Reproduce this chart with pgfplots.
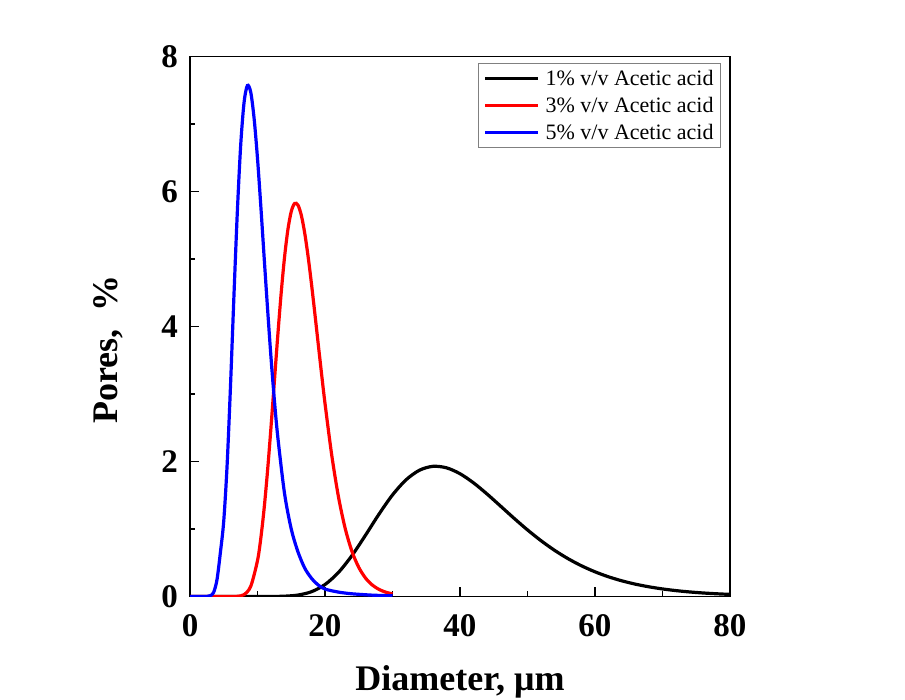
\documentclass[border=0pt]{standalone}
\usepackage{fontspec}
\setmainfont{Liberation Serif}
\usepackage{pgfplots}
\usepackage{pgfplotstable}
\pgfplotsset{compat=1.18}

% pore size distributions, pore fraction (%) against pore diameter (um)
\pgfplotstableread{
x y
0 0
10 0
12 0.0005
14 0.0044
16 0.0214
18 0.0710
20 0.1772
22 0.3567
24 0.6078
26 0.9080
28 1.2202
30 1.5046
32 1.728
34 1.8711
36 1.9284
38 1.9064
40 1.819
42 1.6839
44 1.519
46 1.340
48 1.1594
50 0.9864
52 0.8272
54 0.6848
56 0.5608
58 0.4548
60 0.3658
62 0.2919
64 0.2315
66 0.1825
68 0.1432
70 0.1119
72 0.0871
74 0.0675
76 0.0522
78 0.0403
80 0.0311
}\acidOne

\pgfplotstableread{
x y
0 0
6 0
7 0.0026
8 0.0272
9 0.1515
10 0.5323
10.5 0.871
11 1.321
11.5 1.875
12 2.509
12.5 3.186
13 3.860
13.5 4.486
14 5.021
14.5 5.433
15 5.703
15.5 5.823
16 5.798
16.5 5.644
17 5.381
17.5 5.034
18 4.629
18.5 4.189
19 3.737
19.5 3.290
20 2.861
21 2.093
22 1.474
23 1.005
24 0.6664
25 0.4317
26 0.2738
27 0.1708
28 0.1049
29 0.0637
30 0.0382
}\acidThree

\pgfplotstableread{
x y
0 0
2 0
2.5 0.001
3 0.012
3.5 0.06
4 0.25
4.5 0.65
5 1.12
5.5 1.95
6 3.12
6.5 4.43
7 5.67
7.5 6.67
8 7.31
8.5 7.57
9 7.47
9.5 7.08
10 6.49
10.5 5.77
11 5.00
11.5 4.25
12 3.54
12.5 2.91
13 2.37
14 1.53
15 1.00
16 0.66
17 0.42
18 0.27
19 0.17
20 0.11
22 0.065
24 0.04
27 0.02
30 0.01
}\acidFive

\begin{document}
\begin{tikzpicture}
\useasboundingbox (0,0) rectangle (905pt,700pt);
\begin{axis}[
  at={(190pt,103.5pt)}, anchor=south west,
  scale only axis, width=540pt, height=540pt,
  xmin=0, xmax=80, ymin=0, ymax=8,
  xtick={0,20,...,80}, ytick={0,2,...,8},
  minor xtick={10,30,50,70}, minor ytick={1,3,5,7},
  tick pos=left, tick align=inside,
  major tick length=9pt, minor tick length=5pt,
  every tick/.style={black, line width=1.2pt},
  axis line style={line width=1.5pt},
  /pgf/number format/assume math mode=true,
  ticklabel style={font=\fontsize{33}{36}\selectfont\bfseries, inner sep=0pt},
  xticklabel style={anchor=base, yshift=-40pt},
  yticklabel style={anchor=east, xshift=-12pt},
  xlabel={Diameter, μm},
  ylabel={Pores,\ \ \%},
  label style={font=\fontsize{36}{40}\selectfont\bfseries},
  xlabel style={at={(axis description cs:0.5,-0.1745)}, anchor=base},
  ylabel style={at={(axis description cs:-0.152,0.457)}, anchor=center},
  legend style={at={(axis description cs:1,1)}, anchor=north east,
    xshift=-9pt, yshift=-7pt, draw=gray, line width=0.8pt,
    font=\fontsize{22}{26}\selectfont, inner xsep=5pt, inner ysep=4pt,
    row sep=6.5pt, column sep=4pt},
  legend cell align=left,
  legend image code/.code={\draw[#1, line width=3.2pt] (0pt,0pt) -- (53pt,0pt);},
]
\addplot[black, line width=3.2pt, smooth] table {\acidOne};
\addlegendentry{1\% v/v Acetic acid}
\addplot[red, line width=3.2pt, smooth] table {\acidThree};
\addlegendentry{3\% v/v Acetic acid}
\addplot[blue, line width=3.2pt, smooth] table {\acidFive};
\addlegendentry{5\% v/v Acetic acid}
\end{axis}
\end{tikzpicture}
\end{document}
